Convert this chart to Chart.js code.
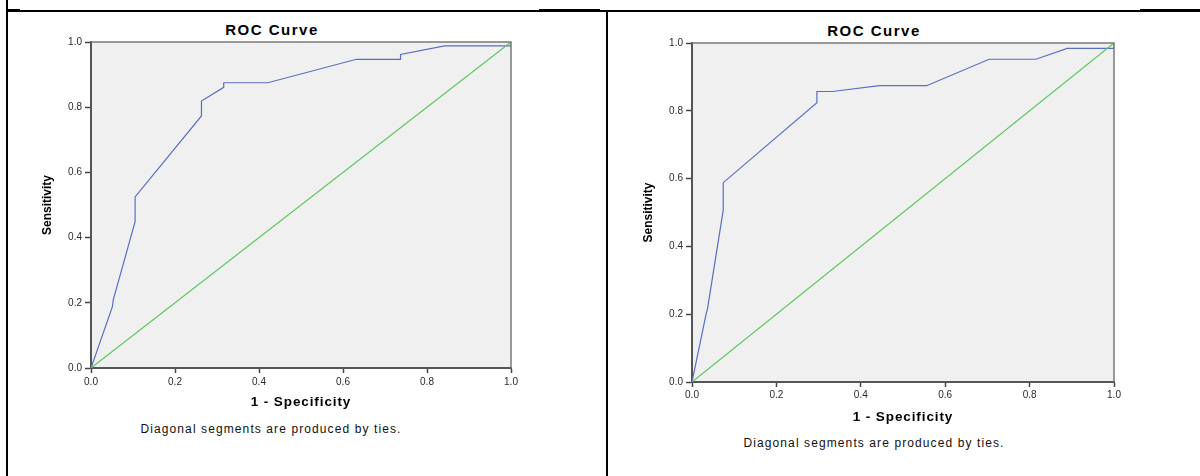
<!DOCTYPE html>
<html><head><meta charset="utf-8">
<script src="https://cdn.jsdelivr.net/npm/chart.js@4.4.1/dist/chart.umd.min.js"></script>
<style>
html,body{margin:0;padding:0;background:#fff;width:1200px;height:476px;overflow:hidden;position:relative;font-family:"Liberation Sans",Arial,sans-serif;}
.ln{position:absolute;background:#000;}
.cv{position:absolute;}
.ttl{position:absolute;width:400px;text-align:center;font-weight:bold;font-size:15px;letter-spacing:1.5px;line-height:18px;color:#000;white-space:nowrap;}
.note{position:absolute;width:400px;text-align:center;font-size:12px;letter-spacing:1.1px;line-height:14px;color:#111;white-space:nowrap;}
</style></head><body>
<div class="ln" style="left:6px;top:0;width:2px;height:476px"></div>
<div class="ln" style="left:6px;top:10px;width:1194px;height:2px"></div>
<div class="ln" style="left:6px;top:9px;width:14px;height:3px"></div>
<div class="ln" style="left:539px;top:9px;width:61px;height:3px"></div>
<div class="ln" style="left:1140px;top:9px;width:60px;height:3px"></div>
<div class="ln" style="left:606px;top:10px;width:2px;height:466px"></div>

<div class="ttl" style="left:72px;top:21px">ROC Curve</div>
<div class="ttl" style="left:674px;top:22px">ROC Curve</div>
<div class="note" style="left:71px;top:422px">Diagonal segments are produced by ties.</div>
<div class="note" style="left:674px;top:436px">Diagonal segments are produced by ties.</div>

<canvas id="c1" class="cv" width="502" height="394" style="left:20px;top:20px;width:502px;height:394px"></canvas>
<canvas id="c2" class="cv" width="502" height="409" style="left:622px;top:20px;width:502px;height:409px"></canvas>

<script>
// ---- data ----
const leftFpr  = [0, 0.051, 0.053, 0.105, 0.105, 0.263, 0.263, 0.316, 0.316, 0.421, 0.632, 0.737, 0.737, 0.842, 1.0, 1.0];
const leftTpr  = [0, 0.188, 0.209, 0.449, 0.525, 0.773, 0.819, 0.861, 0.875, 0.875, 0.947, 0.947, 0.962, 0.988, 0.988, 1.0];
const rightFpr = [0, 0.033, 0.037, 0.074, 0.074, 0.296, 0.296, 0.333, 0.444, 0.556, 0.704, 0.815, 0.889, 1.0, 1.0];
const rightTpr = [0, 0.198, 0.218, 0.507, 0.588, 0.824, 0.857, 0.857, 0.874, 0.874, 0.952, 0.952, 0.984, 0.984, 1.0];
const diagFpr  = [0, 1];
const diagTpr  = [0, 1];
const tickValues = [0, 0.2, 0.4, 0.6, 0.8, 1.0];
const tickLabels = ['0.0', '0.2', '0.4', '0.6', '0.8', '1.0'];
const xTitle = '1 - Specificity';
const yTitle = 'Sensitivity';

const FONT = '"Liberation Sans", Arial, sans-serif';

const frame = {
  id: 'frame',
  beforeDraw(chart) {
    const {ctx, chartArea: a} = chart;
    ctx.save();
    ctx.fillStyle = '#f0f0f0';
    ctx.fillRect(a.left, a.top, a.right - a.left, a.bottom - a.top);
    ctx.restore();
    const sx = chart.scales.x;
    if (sx && !sx._lsPatched) {
      const orig = sx.drawTitle.bind(sx);
      sx.drawTitle = function () {
        const c = chart.ctx;
        c.save();
        try { c.letterSpacing = '0.9px'; } catch (e) {}
        orig();
        c.restore();
      };
      sx._lsPatched = true;
    }
  },
  afterDraw(chart) {
    const {ctx, chartArea: a} = chart;
    ctx.save();
    ctx.strokeStyle = '#7a7a7a';
    ctx.lineWidth = 1.5;
    ctx.beginPath();
    ctx.moveTo(a.left, a.top);
    ctx.lineTo(a.right, a.top);
    ctx.lineTo(a.right, a.bottom);
    ctx.stroke();
    ctx.restore();
  }
};

function pts(xs, ys) { return xs.map((x, i) => ({x: x, y: ys[i]})); }

function makeChart(id, fpr, tpr, g) {
  const setTicks = (scale) => { scale.ticks = tickValues.map(v => ({value: v})); };
  return new Chart(document.getElementById(id), {
    type: 'scatter',
    data: {
      datasets: [
        {data: pts(diagFpr, diagTpr), showLine: true, borderColor: '#5cc65c', borderWidth: 1.2, pointRadius: 0, fill: false},
        {data: pts(fpr, tpr), showLine: true, borderColor: '#5a6fc2', borderWidth: 1.2, pointRadius: 0, fill: false, tension: 0}
      ]
    },
    options: {
      responsive: false,
      animation: false,
      layout: {padding: {left: 0, top: g.padTop, right: g.padRight, bottom: 4}},
      plugins: {legend: {display: false}, tooltip: {enabled: false}, title: {display: false}},
      scales: {
        x: {
          type: 'linear', min: 0, max: 1,
          afterBuildTicks: setTicks,
          afterFit: (s) => { s.height = g.xH; },
          border: {display: true, color: '#555', width: 2},
          grid: {drawOnChartArea: false, drawTicks: true, tickLength: 5, color: '#444', tickColor: '#444', tickWidth: 1.5, lineWidth: 1},
          ticks: {callback: (v, i) => tickLabels[i], font: {family: FONT, size: 10}, color: '#2a2a2a', padding: g.xTickPad, maxRotation: 0, autoSkip: false},
          title: {display: true, text: xTitle, font: {family: FONT, size: 13.5, weight: 'bold'}, color: '#000', padding: {top: 0, bottom: 0}}
        },
        y: {
          type: 'linear', min: 0, max: 1,
          afterBuildTicks: setTicks,
          afterFit: (s) => { s.width = g.yW; },
          border: {display: true, color: '#555', width: 2},
          grid: {drawOnChartArea: false, drawTicks: true, tickLength: 6, color: '#444', tickColor: '#444', tickWidth: 1.5, lineWidth: 1},
          ticks: {callback: (v, i) => tickLabels[i], font: {family: FONT, size: 10}, color: '#2a2a2a', padding: 3, autoSkip: false},
          title: {display: true, text: yTitle, font: {family: FONT, size: 12, weight: 'bold'}, color: '#000', padding: {top: g.yTitlePad, bottom: 0}}
        }
      }
    },
    plugins: [frame]
  });
}

makeChart('c1', leftFpr, leftTpr, {padTop: 22, padRight: 11, xH: 42, yW: 71, xTickPad: 3, yTitlePad: 20});
makeChart('c2', rightFpr, rightTpr, {padTop: 23, padRight: 10, xH: 43, yW: 70, xTickPad: 2, yTitlePad: 19});
</script>
</body></html>
